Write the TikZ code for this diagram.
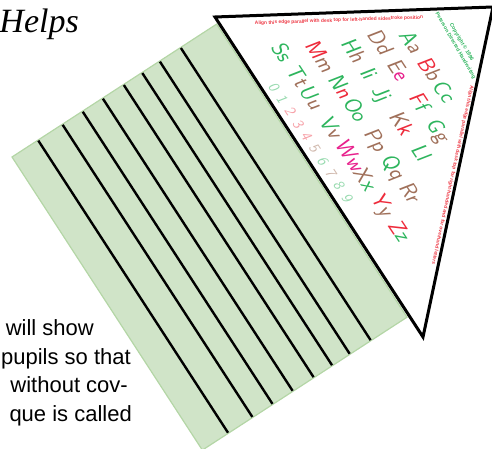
\documentclass[tikz,border=0pt]{standalone}
\usepackage{fontspec}
\newfontfamily\bodyfont{Liberation Sans}
\newfontfamily\titlefont{Liberation Serif}
\usepackage{tikz}
\usetikzlibrary{calc}
\definecolor{sheet}{HTML}{D0E4C8}
\definecolor{sheetedge}{HTML}{B4D6A6}
\definecolor{guide}{HTML}{EE3A46}
\definecolor{hgreen}{HTML}{2DB55D}
\definecolor{hbrown}{HTML}{A0705A}
\definecolor{hred}{HTML}{EE2B3B}
\definecolor{hpink}{HTML}{E8208C}
\colorlet{dgreen}{hgreen!50}
\colorlet{dbrown}{hbrown!50}
\colorlet{dred}{hred!45}

\tikzset{
  glyph/.style={font=\sffamily\itshape\fontsize{22}{22}\selectfont, inner sep=0pt,
    text height=15pt, text depth=0pt, rotate=-56.6},
  numeral/.style={font=\sffamily\itshape\fontsize{15}{15}\selectfont, inner sep=0pt,
    text height=10pt, text depth=0pt, rotate=-56.6},
  guidetext/.style={font=\bodyfont\bfseries\fontsize{4.9}{5}\selectfont, text=guide, inner sep=0pt},
  bodyline/.style={font=\bodyfont\fontsize{22}{27}\selectfont, inner sep=0pt, anchor=base east}
}

\begin{document}
\begin{tikzpicture}[x=1pt, y=1pt]
  \useasboundingbox (0,0) rectangle (492,449);

  % page text cut at the left
  \node[anchor=base east, inner sep=0pt, font=\titlefont\itshape\fontsize{34}{34}\selectfont]
    (title) at (79,416) {Helps};
  \node[bodyline] (line1) at (94,113) {will show};
  \node[bodyline] (line2) at (131,84) {pupils so that};
  \node[bodyline] (line3) at (128,56) {without cov-};
  \node[bodyline] (line4) at (132,27.3) {que is called};

  % ruled sheet
  \begin{scope}[shift={(12,292)}, rotate=33]
    \def\sheetW{244}
    \def\sheetH{349.5}
    \filldraw[fill=sheet, draw=sheetedge, line width=1.2pt] (0,0) rectangle (\sheetW,-\sheetH);
    \foreach \x in {31,60,84,108,133,155,176,201}
      \draw[line width=2.4pt] (\x,-0.6) -- (\x,-\sheetH+0.6);
  \end{scope}

  % slant guide
  \coordinate (tl) at (215,432);
  \coordinate (tr) at (493,442);
  \coordinate (bt) at (423,112);
  \filldraw[fill=white, draw=black, line width=3pt] (tl) -- (tr) -- (bt) -- cycle;

  \node[guidetext, rotate=2] (lefthand) at (339,428.5)
    {Align this edge parallel with desk top for left-handed sidestroke position};
  \node[guidetext, rotate=-102.2] (righthand) at (452.5,274)
    {Align this edge parallel with desk top for right-handed and for overhand letters};
  \node[font=\bodyfont\bfseries\fontsize{5.2}{7}\selectfont, text=hgreen, inner sep=0pt,
        align=center, rotate=-60] (copyright) at (458.5,405)
    {Copyright \textcopyright{} 1996\\Peterson Directed Handwriting};

  % letters
  \begin{scope}[shift={(0,449)}, rotate=-56.6]
    \foreach \U/\L/\cu/\cl/\u in {A/a/hgreen/hbrown/260.5, B/b/hred/hbrown/293.3, C/c/hgreen/hgreen/320.5}
      \node[glyph] (g\U) at (\u,321) {\textcolor{\cu}{\U}\textcolor{\cl}{\L}};
    \foreach \U/\L/\cu/\cl/\u in {D/d/hbrown/hbrown/244, E/e/hbrown/hpink/276.8, F/f/hred/hgreen/315.3,
        G/g/hgreen/hbrown/349.7}
      \node[glyph] (g\U) at (\u,294.6) {\textcolor{\cu}{\U}\textcolor{\cl}{\L}};
    \foreach \U/\L/\cu/\cl/\u in {H/h/hgreen/hbrown/236, I/i/hgreen/hgreen/263.4, J/j/hgreen/hgreen/287.6,
        K/k/hbrown/hred/323.8, L/l/hgreen/hgreen/359}
      \node[glyph] (g\U) at (\u,268) {\textcolor{\cu}{\U}\textcolor{\cl}{\L}};
    \foreach \U/\L/\cu/\cl/\u in {M/m/hred/hbrown/223, N/n/hgreen/hred/258.8, O/o/hgreen/hgreen/286.5,
        P/p/hbrown/hbrown/323.7, Q/q/hgreen/hbrown/355.9, R/r/hbrown/hbrown/385.8}
      \node[glyph] (g\U) at (\u,237) {\textcolor{\cu}{\U}\textcolor{\cl}{\L}};
    \foreach \U/\L/\cu/\cl/\u in {S/s/hgreen/hgreen/198, T/t/hgreen/hbrown/226.6, U/u/hgreen/hbrown/252,
        V/v/hgreen/hbrown/288.4, W/w/hpink/hpink/321.9, X/x/hbrown/hgreen/350, Y/y/hred/hbrown/381.3,
        Z/z/hred/hgreen/412}
      \node[glyph] (g\U) at (\u,207) {\textcolor{\cu}{\U}\textcolor{\cl}{\L}};
    \foreach \d/\c in {0/dgreen, 1/dgreen, 2/dred, 3/dred, 4/dred, 5/dbrown, 6/dgreen, 7/dbrown, 8/dgreen, 9/dgreen}
      \node[numeral, text=\c] (n\d) at (222.8+\d*14.8,181) {\d};
  \end{scope}
\end{tikzpicture}
\end{document}
